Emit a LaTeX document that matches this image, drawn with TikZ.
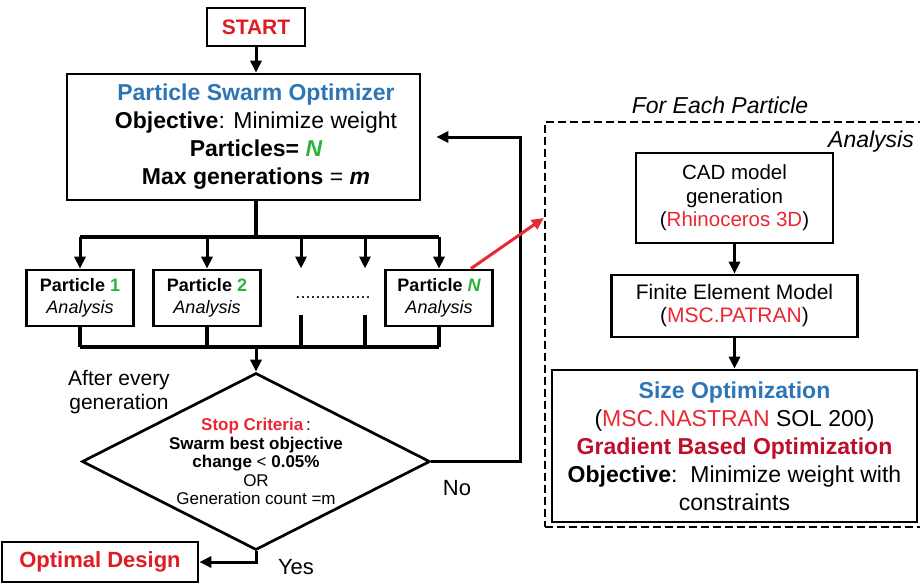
\documentclass[tikz,border=0pt]{standalone}
\usepackage{fontspec}
\setmainfont{Liberation Sans}
\usepackage{tikz}
\usetikzlibrary{shapes.geometric}
\usetikzlibrary{positioning}
\usetikzlibrary{calc}
\usetikzlibrary{arrows.meta}

\newcommand{\fsize}[2]{\fontsize{#1}{#2}\selectfont}

\begin{document}
\begin{tikzpicture}[x=1pt,y=1pt,->,>={Triangle[length=12pt,width=11pt]},line width=3pt,
	box/.style={rectangle,draw,line width=2.7pt,align=center,inner sep=0pt},
	pbox/.style={box,minimum width=107,minimum height=56,font=\fsize{18}{22}},
	toolbox/.style={box,font=\fsize{21}{23}},
	note/.style={align=center,inner sep=0pt},
	link/.style={-,line width=3.2pt}]
	
	\definecolor{psoblue}{RGB}{46,117,182}
	\definecolor{startred}{RGB}{222,28,36}
	\definecolor{swred}{RGB}{232,40,52}
	\definecolor{gradred}{RGB}{190,14,42}
	\definecolor{pgreen}{RGB}{44,178,60}
	
	\useasboundingbox (0,0) rectangle (920,-584);
	
	% optimizer loop
	\node[box,minimum width=98,minimum height=38,font=\fsize{21}{25}\bfseries,text=startred] (start) at (256,-27) {START};
	\node[box,minimum width=353,minimum height=126,
		label={[note,xshift=12.5pt,font=\fsize{23}{28}]center:{\textcolor{psoblue}{\bfseries Particle Swarm Optimizer}\\
			\textbf{Objective}: Minimize weight\\
			\textbf{Particles=} \textcolor{pgreen}{\bfseries\itshape N}\\
			\textbf{Max generations} = \textbf{\textit{m}}}}] (pso) at (243.5,-137) {};
	
	\node[pbox] (p1) at (80,-298) {\textbf{Particle \textcolor{pgreen}{1}}\\\textit{Analysis}};
	\node[pbox,node distance=127pt,right of=p1] (p2) {\textbf{Particle \textcolor{pgreen}{2}}\\\textit{Analysis}};
	\node[note,minimum height=56,font=\fsize{18}{22},node distance=126pt,right of=p2] (pdots) {...............};
	\node[pbox,node distance=106pt,right of=pdots] (pN) {\textbf{Particle \textcolor{pgreen}{\itshape N}}\\\textit{Analysis}};
	
	\coordinate (split) at (256,-237);
	\coordinate (join) at (256,-347);
	
	\node[draw,diamond,line width=2.7pt,minimum width=348,minimum height=177,inner sep=0pt,
		label={[note,font=\fsize{17}{18.5}]center:{\textcolor{swred}{\bfseries Stop Criteria}\,:\\
			\textbf{Swarm best objective}\\
			\textbf{change} < \textbf{0.05\%}\\
			OR\\
			Generation count =m}}] (stop) at (256,-461.5) {};
	\node[note,font=\fsize{21}{24}] (every) at (119,-392) {After every\\generation};
	
	\node[box,minimum width=196,minimum height=40,font=\fsize{22}{26}\bfseries,text=startred] (opt) at (100,-562) {Optimal Design};
	\node[note,font=\fsize{22}{26}] (yes) at (296,-567) {Yes};
	\node[note,font=\fsize{22}{26}] (no) at (457,-488) {No};
	\coordinate (back) at (520,-137);
	
	\draw (start.south) -- (start.south |- pso.north);
	\draw[link] (pso.south -| start) -- (split);
	\draw[link] (p1 |- split) -- (pN |- split);
	\draw[link] (p1 |- join) -- (pN |- join);
	\foreach \n in {p1,p2,pN} {
		\draw (split -| \n) -- (\n.north);
		\draw[link] (\n.south) -- (join -| \n);
	}
	\foreach \dx in {-32,32} {
		\draw ($(split -| pdots)+(\dx,0)$) -- ($(pdots.north)+(\dx,0)$);
		\draw[link] ($(pdots.south)+(\dx,13)$) -- ($(join -| pdots)+(\dx,0)$);
	}
	\draw (join) -- (stop.north);
	\draw (stop.south) |- (opt.east);
	\draw[shorten >=15pt] (stop.east) -| (back) -- (back -| pso.east);
	
	% analysis of one particle
	\node[draw,dashed,dash pattern=on 8pt off 4pt,line width=2.5pt,minimum width=390,minimum height=405] (each) at (740,-324.5) {};
	\node[note,font=\fsize{23}{27}\itshape] (eachlbl) at (720,-105) {For Each Particle};
	\node[note,font=\fsize{23}{27}\itshape] (anlbl) at (871,-142) {Analysis};
	
	\node[toolbox,minimum width=197,minimum height=90,font=\fsize{20.5}{23.5}] (cad) at (734.5,-198) {CAD model\\generation\\(\textcolor{swred}{Rhinoceros 3D})};
	\node[toolbox,minimum width=246,minimum height=62,node distance=108pt,below of=cad] (fem) {Finite Element Model\\(\textcolor{swred}{MSC.PATRAN})};
	\node[box,minimum width=365,minimum height=152,font=\fsize{23}{28},node distance=140pt,below of=fem] (size) {\textcolor{psoblue}{\bfseries Size Optimization}\\
		(\textcolor{swred}{MSC.NASTRAN} SOL 200)\\
		\textcolor{gradred}{\bfseries Gradient Based Optimization}\\
		\textbf{Objective}:\ \ Minimize weight with\\
		constraints};
	
	\draw (cad) -- (fem);
	\draw (fem) -- (size);
	\draw[swred] ($(pN.north east)+(-23,0)$) -- ($(each.west)+(0,106.5)$);
\end{tikzpicture}
\end{document}
